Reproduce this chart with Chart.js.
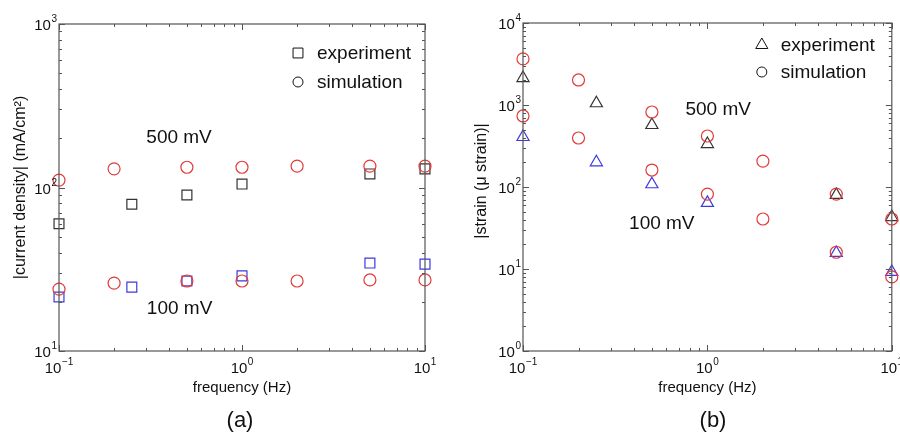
<!DOCTYPE html>
<html>
<head>
<meta charset="utf-8">
<script src="https://cdn.jsdelivr.net/npm/chart.js@4.4.1/dist/chart.umd.min.js"></script>
<style>
  html, body { margin: 0; padding: 0; background: #fff; }
  .panel { position: absolute; top: 0; width: 450px; height: 435px; }
</style>
</head>
<body>
<div class="panel" style="left:0"><canvas id="chartA" width="450" height="435"></canvas></div>
<div class="panel" style="left:450px"><canvas id="chartB" width="450" height="435"></canvas></div>
<script>
// (a) current density vs frequency
const freqExpA = [0.1, 0.25, 0.5, 1, 5, 10];
const freqSimA = [0.1, 0.2, 0.5, 1, 2, 5, 10];
const expA500 = [60, 79, 90, 105, 121, 130];
const expA100 = [21.4, 24.6, 26.8, 28.8, 34.5, 34];
const simA500 = [111, 130, 133, 133, 135, 135, 135];
const simA100 = [23.9, 26, 26.8, 26.8, 26.8, 27.2, 27.2];

// (b) strain vs frequency
const freqExpB = [0.1, 0.25, 0.5, 1, 5, 10];
const freqSimB = [0.1, 0.2, 0.5, 1, 2, 5, 10];
const expB500 = [2130, 1050, 570, 334, 80, 43];
const expB100 = [407, 200, 108, 64, 15.7, 9.2];
const simB500 = [3650, 2020, 822, 419, 207, 82, 40.7];
const simB100 = [735, 396, 161, 82, 40.7, 16, 8];

const RED = "#e23b3b";
const BLUE = "#3a3ae0";
const DARK = "#333333";
const FONT = "'Liberation Sans', Arial, Helvetica, sans-serif";

const toPoints = (xs, ys) => xs.map((x, i) => ({ x: x, y: ys[i] }));

const series = (label, xs, ys, color, style, radius) => ({
  label: label,
  data: toPoints(xs, ys),
  pointStyle: style,
  pointRadius: radius,
  pointHoverRadius: radius,
  pointBorderWidth: 1.2,
  borderColor: color,
  backgroundColor: "rgba(0,0,0,0)",
  showLine: false,
  clip: false,
});

// decade exponents for a log range
function decades(min, max) {
  return [Math.round(Math.log10(min)), Math.round(Math.log10(max))];
}

// draws "10" with a raised exponent
function drawPower(ctx, exp, x, y, align) {
  ctx.font = "15px " + FONT;
  const base = "10";
  const bw = ctx.measureText(base).width;
  ctx.font = "10px " + FONT;
  const sup = String(exp).replace("-", "\u2212");
  const sw = ctx.measureText(sup).width;
  const total = bw + sw + 0.5;
  let left = x;
  if (align === "right") left = x - total;
  if (align === "center") left = x - total / 2;
  ctx.textAlign = "left";
  ctx.textBaseline = "alphabetic";
  ctx.font = "15px " + FONT;
  ctx.fillText(base, left, y);
  ctx.font = "10px " + FONT;
  ctx.fillText(sup, left + bw + 0.5, y - 8);
}

const panelPlugin = {
  id: "panel",
  afterDraw(chart, args, opts) {
    const ctx = chart.ctx;
    const area = chart.chartArea;
    const xs = chart.scales.x;
    const ys = chart.scales.y;
    ctx.save();

    // frame
    ctx.strokeStyle = "#555";
    ctx.lineWidth = 1.2;
    ctx.strokeRect(area.left, area.top, area.right - area.left, area.bottom - area.top);

    // inward log ticks on all four sides
    ctx.lineWidth = 1;
    ctx.beginPath();
    const [xa, xb] = decades(xs.min, xs.max);
    for (let d = xa; d <= xb; d++) {
      for (let m = 1; m <= 9; m++) {
        const v = m * Math.pow(10, d);
        if (v < xs.min * 0.999 || v > xs.max * 1.001) continue;
        const px = Math.round(xs.getPixelForValue(v)) + 0.5;
        const len = m === 1 ? 6 : 3;
        ctx.moveTo(px, area.bottom); ctx.lineTo(px, area.bottom - len);
        ctx.moveTo(px, area.top); ctx.lineTo(px, area.top + len);
      }
    }
    const [ya, yb] = decades(ys.min, ys.max);
    for (let d = ya; d <= yb; d++) {
      for (let m = 1; m <= 9; m++) {
        const v = m * Math.pow(10, d);
        if (v < ys.min * 0.999 || v > ys.max * 1.001) continue;
        const py = Math.round(ys.getPixelForValue(v)) + 0.5;
        const len = m === 1 ? 6 : 3;
        ctx.moveTo(area.left, py); ctx.lineTo(area.left + len, py);
        ctx.moveTo(area.right, py); ctx.lineTo(area.right - len, py);
      }
    }
    ctx.stroke();

    // tick labels
    ctx.fillStyle = "#111";
    for (let d = xa; d <= xb; d++) {
      drawPower(ctx, d, xs.getPixelForValue(Math.pow(10, d)), area.bottom + 22, "center");
    }
    for (let d = ya; d <= yb; d++) {
      drawPower(ctx, d, area.left - 2, ys.getPixelForValue(Math.pow(10, d)) + 6, "right");
    }

    // axis titles
    ctx.textAlign = "center";
    ctx.textBaseline = "middle";
    const cx = (area.left + area.right) / 2;
    const cy = (area.top + area.bottom) / 2;
    ctx.font = "15px " + FONT;
    ctx.fillText(opts.xTitle, cx, area.bottom + 37);
    ctx.save();
    ctx.font = "16px " + FONT;
    ctx.translate(opts.yTitleX, cy + opts.yTitleShift);
    ctx.rotate(-Math.PI / 2);
    ctx.fillText(opts.yTitle, 0, 0);
    ctx.restore();

    // panel tag
    ctx.font = "22px " + FONT;
    ctx.fillText(opts.tag, opts.tagX, 421);

    // voltage annotations
    ctx.font = "19px " + FONT;
    ctx.textAlign = "left";
    opts.notes.forEach((n) => {
      ctx.fillText(n.text, xs.getPixelForValue(n.x), ys.getPixelForValue(n.y));
    });

    // legend in the upper right corner
    ctx.strokeStyle = "#111";
    ctx.fillStyle = "rgba(0,0,0,0)";
    opts.legend.forEach((item, i) => {
      const mx = area.right - opts.legendRight;
      const my = area.top + opts.legendTop + i * opts.legendGap;
      Chart.helpers.drawPoint(ctx, { pointStyle: item.style, radius: item.radius, rotation: 0, borderWidth: 1.2 }, mx, my);
    });
    ctx.fillStyle = "#111";
    ctx.font = "19px " + FONT;
    opts.legend.forEach((item, i) => {
      const mx = area.right - opts.legendRight;
      const my = area.top + opts.legendTop + i * opts.legendGap;
      ctx.fillText(item.text, mx + 19, my + 1);
    });

    ctx.restore();
  },
};

function logAxis(min, max) {
  return { type: "logarithmic", min: min, max: max, display: false };
}

new Chart("chartA", {
  type: "scatter",
  data: {
    datasets: [
      series("sim 500 mV", freqSimA, simA500, RED, "circle", 6),
      series("sim 100 mV", freqSimA, simA100, RED, "circle", 6),
      series("exp 500 mV", freqExpA, expA500, DARK, "rect", 7),
      series("exp 100 mV", freqExpA, expA100, BLUE, "rect", 7),
    ],
  },
  options: {
    responsive: false,
    animation: false,
    layout: { padding: { left: 59, right: 25, top: 24, bottom: 84 } },
    scales: { x: logAxis(0.1, 10), y: logAxis(10, 1000) },
    plugins: {
      legend: { display: false },
      tooltip: { enabled: false },
      panel: {
        xTitle: "frequency (Hz)",
        yTitle: "|current density| (mA/cm\u00b2)",
        yTitleX: 21,
        yTitleShift: 0,
        tag: "(a)",
        tagX: 240,
        notes: [
          { text: "500 mV", x: 0.3, y: 201 },
          { text: "100 mV", x: 0.302, y: 18.1 },
        ],
        legend: [
          { style: "rect", radius: 7, text: "experiment" },
          { style: "circle", radius: 5, text: "simulation" },
        ],
        legendRight: 127,
        legendTop: 29,
        legendGap: 29,
      },
    },
  },
  plugins: [panelPlugin],
});

new Chart("chartB", {
  type: "scatter",
  data: {
    datasets: [
      series("sim 500 mV", freqSimB, simB500, RED, "circle", 6),
      series("sim 100 mV", freqSimB, simB100, RED, "circle", 6),
      series("exp 500 mV", freqExpB, expB500, DARK, "triangle", 7),
      series("exp 100 mV", freqExpB, expB100, BLUE, "triangle", 7),
    ],
  },
  options: {
    responsive: false,
    animation: false,
    layout: { padding: { left: 73, right: 8, top: 23, bottom: 84 } },
    scales: { x: logAxis(0.1, 10), y: logAxis(1, 10000) },
    plugins: {
      legend: { display: false },
      tooltip: { enabled: false },
      panel: {
        xTitle: "frequency (Hz)",
        yTitle: "|strain (\u03bc strain)|",
        yTitleX: 32,
        yTitleShift: -6,
        tag: "(b)",
        tagX: 263,
        notes: [
          { text: "500 mV", x: 0.76, y: 869 },
          { text: "100 mV", x: 0.376, y: 35.4 },
        ],
        legend: [
          { style: "triangle", radius: 7, text: "experiment" },
          { style: "circle", radius: 5, text: "simulation" },
        ],
        legendRight: 130,
        legendTop: 22,
        legendGap: 27,
      },
    },
  },
  plugins: [panelPlugin],
});
</script>
</body>
</html>
